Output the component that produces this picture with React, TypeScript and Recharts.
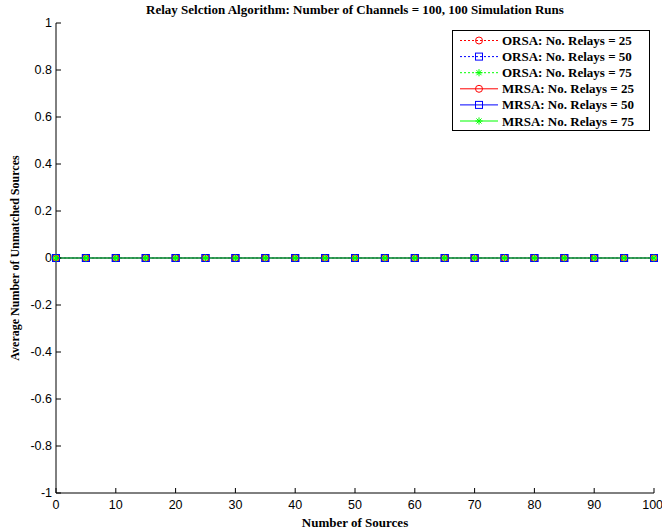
import React from 'react';
import { LineChart, Line, XAxis, YAxis, Legend } from 'recharts';

const sources = [0, 5, 10, 15, 20, 25, 30, 35, 40, 45, 50, 55, 60, 65, 70, 75, 80, 85, 90, 95, 100];
const orsa25 = [0, 0, 0, 0, 0, 0, 0, 0, 0, 0, 0, 0, 0, 0, 0, 0, 0, 0, 0, 0, 0];
const orsa50 = [0, 0, 0, 0, 0, 0, 0, 0, 0, 0, 0, 0, 0, 0, 0, 0, 0, 0, 0, 0, 0];
const orsa75 = [0, 0, 0, 0, 0, 0, 0, 0, 0, 0, 0, 0, 0, 0, 0, 0, 0, 0, 0, 0, 0];
const mrsa25 = [0, 0, 0, 0, 0, 0, 0, 0, 0, 0, 0, 0, 0, 0, 0, 0, 0, 0, 0, 0, 0];
const mrsa50 = [0, 0, 0, 0, 0, 0, 0, 0, 0, 0, 0, 0, 0, 0, 0, 0, 0, 0, 0, 0, 0];
const mrsa75 = [0, 0, 0, 0, 0, 0, 0, 0, 0, 0, 0, 0, 0, 0, 0, 0, 0, 0, 0, 0, 0];

const xTicks = [0, 10, 20, 30, 40, 50, 60, 70, 80, 90, 100];
const yTicks = [-1, -0.8, -0.6, -0.4, -0.2, 0, 0.2, 0.4, 0.6, 0.8, 1];

const series = [
  { key: 'orsa25', name: 'ORSA: No. Relays = 25', color: '#ff0000', marker: 'circle', dashed: true },
  { key: 'orsa50', name: 'ORSA: No. Relays = 50', color: '#0000ff', marker: 'square', dashed: true },
  { key: 'orsa75', name: 'ORSA: No. Relays = 75', color: '#00ff00', marker: 'star', dashed: true },
  { key: 'mrsa25', name: 'MRSA: No. Relays = 25', color: '#ff0000', marker: 'circle', dashed: false },
  { key: 'mrsa50', name: 'MRSA: No. Relays = 50', color: '#0000ff', marker: 'square', dashed: false },
  { key: 'mrsa75', name: 'MRSA: No. Relays = 75', color: '#00ff00', marker: 'star', dashed: false },
];

const data = sources.map((s, i) => ({
  s,
  orsa25: orsa25[i],
  orsa50: orsa50[i],
  orsa75: orsa75[i],
  mrsa25: mrsa25[i],
  mrsa50: mrsa50[i],
  mrsa75: mrsa75[i],
}));

const serif = '"Liberation Serif", "DejaVu Serif", serif';
const sans = '"Liberation Sans", Arial, sans-serif';

function Marker({ type, cx, cy, color }: { type: string; cx: number; cy: number; color: string }) {
  if (type === 'circle') {
    return <circle cx={cx} cy={cy} r={3.5} fill="none" stroke={color} strokeWidth={1} />;
  }
  if (type === 'square') {
    return <rect x={cx - 3.5} y={cy - 3.5} width={7} height={7} fill="none" stroke={color} strokeWidth={1} />;
  }
  const r = 3.6;
  const d = r * 0.707;
  return (
    <g stroke={color} strokeWidth={1}>
      <line x1={cx - r} y1={cy} x2={cx + r} y2={cy} />
      <line x1={cx} y1={cy - r} x2={cx} y2={cy + r} />
      <line x1={cx - d} y1={cy - d} x2={cx + d} y2={cy + d} />
      <line x1={cx - d} y1={cy + d} x2={cx + d} y2={cy - d} />
    </g>
  );
}

const makeDot = (type: string, color: string) => (props: any) => (
  <Marker key={`${type}-${props.index}`} type={type} cx={props.cx} cy={props.cy} color={color} />
);

function LegendBox() {
  return (
    <svg width={198} height={101} style={{ display: 'block' }}>
      <rect x={0.5} y={0.5} width={197} height={100} fill="#fff" stroke="#000" strokeWidth={1} />
      {series.map((s, i) => {
        const y = 10.5 + i * 16.1;
        return (
          <g key={s.key}>
            <line x1={8} x2={46} y1={y} y2={y} stroke={s.color} strokeWidth={1} strokeDasharray={s.dashed ? '2 2' : undefined} />
            <Marker type={s.marker} cx={27} cy={y} color={s.color} />
            <text x={50} y={y + 4.5} fontFamily={serif} fontWeight="bold" fontSize={13} fill="#000">
              {s.name}
            </text>
          </g>
        );
      })}
    </svg>
  );
}

export default function App() {
  return (
    <div style={{ position: 'absolute', left: 0, top: 0, width: 662, height: 531, background: '#fff' }}>
      <LineChart width={662} height={531} data={data} margin={{ top: 23, right: 8, bottom: 0, left: 0 }}>
        <XAxis
          xAxisId="bottom"
          dataKey="s"
          type="number"
          domain={[0, 100]}
          ticks={xTicks}
          height={38}
          tickSize={-5}
          tickMargin={12}
          stroke="#000"
          tick={{ fill: '#000', fontFamily: sans, fontSize: 12.5 }}
          label={{ value: 'Number of Sources', position: 'insideBottom', offset: 4, fill: '#000', fontFamily: serif, fontWeight: 'bold', fontSize: 13 }}
        />
        <XAxis
          xAxisId="top"
          orientation="top"
          dataKey="s"
          type="number"
          domain={[0, 100]}
          ticks={xTicks}
          height={0}
          tickSize={-5}
          stroke="#000"
          tickFormatter={() => ''}
        />
        <YAxis
          yAxisId="left"
          type="number"
          domain={[-1, 1]}
          ticks={yTicks}
          width={56}
          tickSize={-5}
          tickMargin={9}
          stroke="#000"
          tick={{ fill: '#000', fontFamily: sans, fontSize: 12.5 }}
          label={{ value: 'Average Number of Unmatched Sources', angle: -90, position: 'insideLeft', offset: 15, style: { textAnchor: 'middle' }, fill: '#000', fontFamily: serif, fontWeight: 'bold', fontSize: 12 }}
        />
        <YAxis
          yAxisId="right"
          orientation="right"
          type="number"
          domain={[-1, 1]}
          ticks={yTicks}
          width={0}
          tickSize={-5}
          stroke="#000"
          tickFormatter={() => ''}
        />
        <Legend
          layout="vertical"
          align="center"
          verticalAlign="middle"
          content={() => <LegendBox />}
          wrapperStyle={{ position: 'absolute', left: 452, top: 30, width: 198, height: 101, margin: 0 }}
        />
        {series.map((s) => (
          <Line
            key={s.key}
            xAxisId="bottom"
            yAxisId="left"
            type="linear"
            dataKey={s.key}
            name={s.name}
            stroke={s.color}
            strokeWidth={1}
            strokeDasharray={s.dashed ? '2 2' : undefined}
            dot={makeDot(s.marker, s.color)}
            activeDot={false}
            isAnimationActive={false}
          />
        ))}
        <text x={355} y={14} textAnchor="middle" fontFamily={serif} fontWeight="bold" fontSize={13} fill="#000">
          Relay Selction Algorithm: Number of Channels = 100, 100 Simulation Runs
        </text>
      </LineChart>
    </div>
  );
}
